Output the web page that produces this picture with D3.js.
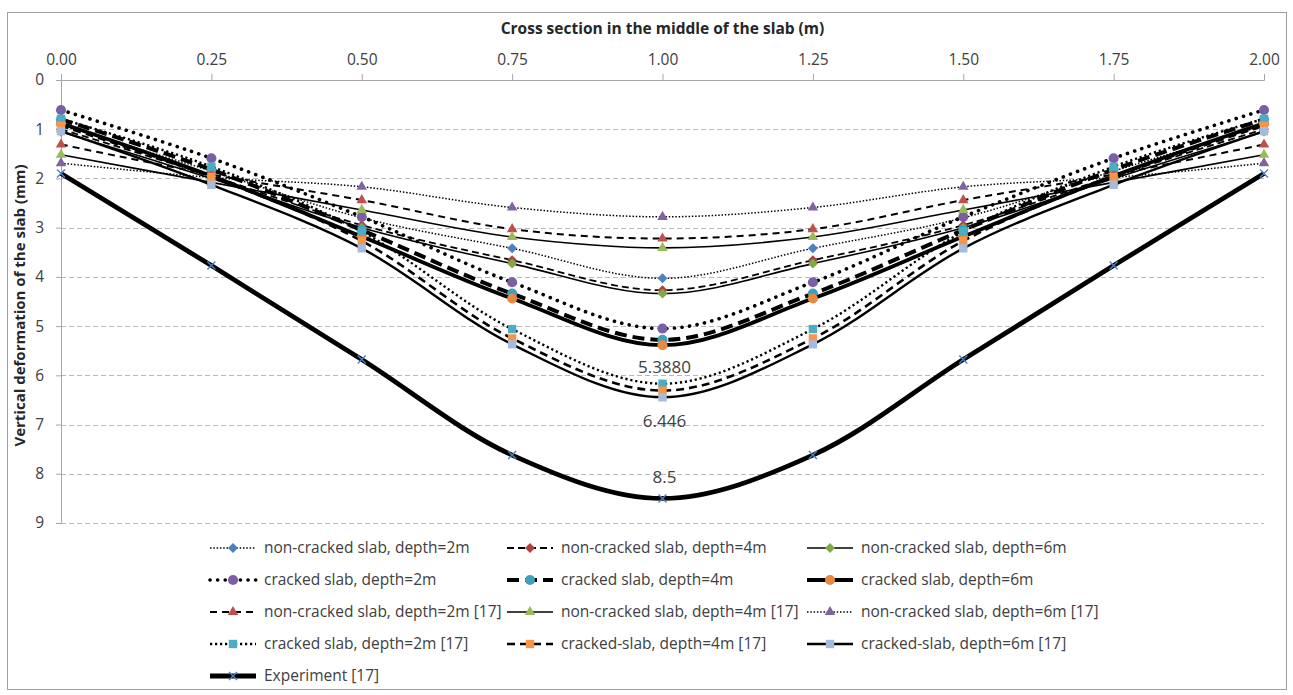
<!DOCTYPE html>
<html>
<head>
<meta charset="utf-8">
<script src="https://cdn.jsdelivr.net/npm/d3@7"></script>
<style>
body { margin: 0; background: #fff; }
text { font-family: "Open Sans", sans-serif; }
</style>
</head>
<body>
<div id="chart"></div>
<script>
const layout = {
    width: 1293,
    height: 695,
    marginLeft: 61,
    marginTop: 80,
    chartWidth: 1203,
    chartHeight: 443,
    legendTop: 548,
    legendRow: 32,
    legendCols: [210, 507, 807],
    sampleWidth: 46,
    textGap: 54
};

// x positions across the slab (m)
const xPos = [0, 0.25, 0.5, 0.75, 1, 1.25, 1.5, 1.75, 2];
const xTicks = [0, 0.25, 0.5, 0.75, 1, 1.25, 1.5, 1.75, 2];
const yTicks = [0, 1, 2, 3, 4, 5, 6, 7, 8, 9];

const seriesNames = [
    "non-cracked slab, depth=2m",
    "non-cracked slab, depth=4m",
    "non-cracked slab, depth=6m",
    "cracked slab, depth=2m",
    "cracked slab, depth=4m",
    "cracked slab, depth=6m",
    "non-cracked slab, depth=2m [17]",
    "non-cracked slab, depth=4m [17]",
    "non-cracked slab, depth=6m [17]",
    "cracked slab, depth=2m [17]",
    "cracked-slab, depth=4m [17]",
    "cracked-slab, depth=6m [17]",
    "Experiment [17]"
];

// vertical deformation (mm) at each xPos
const nonCracked2 = [0.92, 1.85, 2.80, 3.42, 4.03, 3.42, 2.80, 1.85, 0.92];
const nonCracked4 = [1.00, 1.95, 2.95, 3.66, 4.27, 3.66, 2.95, 1.95, 1.00];
const nonCracked6 = [1.05, 2.00, 3.00, 3.73, 4.34, 3.73, 3.00, 2.00, 1.05];
const cracked2 = [0.61, 1.59, 2.78, 4.11, 5.05, 4.11, 2.78, 1.59, 0.61];
const cracked4 = [0.80, 1.82, 3.05, 4.34, 5.28, 4.34, 3.05, 1.82, 0.80];
const cracked6 = [0.88, 1.95, 3.18, 4.44, 5.388, 4.44, 3.18, 1.95, 0.88];
const nonCracked2Ref = [1.31, 1.92, 2.44, 3.03, 3.22, 3.03, 2.44, 1.92, 1.31];
const nonCracked4Ref = [1.52, 2.08, 2.64, 3.19, 3.41, 3.19, 2.64, 2.08, 1.52];
const nonCracked6Ref = [1.69, 1.98, 2.17, 2.59, 2.78, 2.59, 2.17, 1.98, 1.69];
const cracked2Ref = [0.79, 1.76, 3.08, 5.06, 6.17, 5.06, 3.08, 1.76, 0.79];
const cracked4Ref = [0.93, 1.97, 3.27, 5.25, 6.31, 5.25, 3.27, 1.97, 0.93];
const cracked6Ref = [1.04, 2.13, 3.42, 5.37, 6.446, 5.37, 3.42, 2.13, 1.04];
const experiment = [1.90, 3.77, 5.68, 7.62, 8.50, 7.62, 5.68, 3.77, 1.90];

const seriesValues = [nonCracked2, nonCracked4, nonCracked6, cracked2, cracked4, cracked6,
    nonCracked2Ref, nonCracked4Ref, nonCracked6Ref, cracked2Ref, cracked4Ref, cracked6Ref, experiment];

// data labels shown on the plot: series index, point index, text
const dataLabels = [
    {series: 5, point: 4, text: "5.3880"},
    {series: 11, point: 4, text: "6.446"},
    {series: 12, point: 4, text: "8.5"}
];

// line + marker look of each series
const styles = [
    {w: 1.5, dash: "1.5,1.8", marker: "diamond", color: "#4f81bd"},
    {w: 1.8, dash: "7,4", marker: "diamond", color: "#b0413e"},
    {w: 1.6, dash: null, marker: "diamond", color: "#7faa45"},
    {w: 3.6, dash: "0.1,7.5", cap: "round", marker: "circle", color: "#7a5ea6"},
    {w: 4, dash: "12,6", marker: "circle", color: "#3fa0bb"},
    {w: 3.8, dash: null, marker: "circle", color: "#ea8740"},
    {w: 2, dash: "7,5", marker: "triangle", color: "#c0504d"},
    {w: 1.6, dash: null, marker: "triangle", color: "#9bbb59"},
    {w: 1.5, dash: "1.5,1.8", marker: "triangle", color: "#8064a2"},
    {w: 2.4, dash: "2.2,2.8", marker: "square", color: "#4bacc6"},
    {w: 2.6, dash: "8,5", marker: "square", color: "#f79646"},
    {w: 2.4, dash: null, marker: "square", color: "#a6badd"},
    {w: 4.8, dash: null, marker: "x", color: "#4f81bd"}
];

const labelOffset = {5: 22, 11: 24, 12: -21};

let svg = d3.select("#chart").append("svg")
    .attr("width", layout.width)
    .attr("height", layout.height);

let xScale = d3.scaleLinear().domain([0, 2])
    .range([layout.marginLeft, layout.marginLeft + layout.chartWidth]);
let yScale = d3.scaleLinear().domain([0, 9])
    .range([layout.marginTop, layout.marginTop + layout.chartHeight]);

// outer frame
svg.append("rect")
    .attr("x", 7.5).attr("y", 12.5)
    .attr("width", 1279).attr("height", 677)
    .attr("fill", "none")
    .attr("stroke", "#a0a0a0");

// dashed horizontal gridlines
for (let i = 1; i < yTicks.length; i++) {
    svg.append("line")
        .attr("x1", xScale(0)).attr("x2", xScale(2))
        .attr("y1", Math.round(yScale(yTicks[i])) + 0.5)
        .attr("y2", Math.round(yScale(yTicks[i])) + 0.5)
        .attr("stroke", "#b8b8b8")
        .attr("stroke-width", 1)
        .attr("stroke-dasharray", "5,3");
}

// top x axis
let xAxis = svg.append("g")
    .attr("transform", `translate(0,${layout.marginTop})`)
    .call(d3.axisTop(xScale).tickValues(xTicks).tickFormat(d3.format(".2f")).tickSize(6).tickPadding(9));
xAxis.selectAll("line, .domain").attr("stroke", "#a6a6a6");
xAxis.selectAll("text").attr("fill", "#404040").attr("font-size", 15.5)
    .attr("font-family", "Open Sans, sans-serif");

// left y axis
let yAxis = svg.append("g")
    .attr("transform", `translate(${layout.marginLeft},0)`)
    .call(d3.axisLeft(yScale).tickValues(yTicks).tickFormat(d3.format("d")).tickSize(5).tickPadding(12));
yAxis.selectAll("line, .domain").attr("stroke", "#a6a6a6");
yAxis.selectAll("text").attr("fill", "#404040").attr("font-size", 15.5)
    .attr("font-family", "Open Sans, sans-serif");

// axis titles
svg.append("text")
    .attr("x", xScale(1)).attr("y", 34)
    .attr("text-anchor", "middle")
    .attr("font-size", 15.5)
    .attr("font-weight", "bold")
    .attr("fill", "#262626")
    .text("Cross section in the middle of the slab (m)");
svg.append("text")
    .attr("transform", `translate(25,${(yScale(0) + yScale(9)) / 2 + 4}) rotate(-90)`)
    .attr("text-anchor", "middle")
    .attr("font-size", 15)
    .attr("font-weight", "bold")
    .attr("fill", "#262626")
    .text("Vertical deformation of the slab (mm)");

function markerPath(kind) {
    if (kind === "diamond") return d3.symbol(d3.symbolSquare, 50)();
    if (kind === "circle") return d3.symbol(d3.symbolCircle, 80)();
    if (kind === "triangle") return d3.symbol(d3.symbolTriangle, 48)();
    if (kind === "square") return d3.symbol(d3.symbolSquare, 70)();
    return "M-4,-4L4,4M-4,4L4,-4";
}

function drawMarker(g, kind, color, x, y) {
    let m = g.append("path")
        .attr("d", markerPath(kind))
        .attr("transform", `translate(${x},${y})` + (kind === "diamond" ? " rotate(45)" : ""));
    if (kind === "x") {
        m.attr("fill", "none").attr("stroke", color).attr("stroke-width", 1.4);
    } else {
        m.attr("fill", color).attr("stroke", "none");
    }
}

let line = d3.line()
    .x((d, i) => xScale(xPos[i]))
    .y(d => yScale(d))
    .curve(d3.curveCatmullRom.alpha(0.5));

// draw each series: line then markers
for (let s = 0; s < seriesValues.length; s++) {
    let st = styles[s];
    let g = svg.append("g").attr("class", "series-" + s);
    g.append("path")
        .datum(seriesValues[s])
        .attr("fill", "none")
        .attr("stroke", "#000")
        .attr("stroke-width", st.w)
        .attr("stroke-dasharray", st.dash)
        .attr("stroke-linecap", st.cap || "butt")
        .attr("d", line);
    for (let i = 0; i < xPos.length; i++) {
        drawMarker(g, st.marker, st.color, xScale(xPos[i]), yScale(seriesValues[s][i]));
    }
}

// data labels
dataLabels.forEach(function(d) {
    svg.append("text")
        .attr("x", xScale(xPos[d.point]) + 2)
        .attr("y", yScale(seriesValues[d.series][d.point]) + labelOffset[d.series])
        .attr("dy", "0.35em")
        .attr("text-anchor", "middle")
        .attr("font-size", 17)
        .attr("fill", "#404040")
        .text(d.text);
});

// legend, three columns
for (let s = 0; s < seriesNames.length; s++) {
    let st = styles[s];
    let col = s % 3;
    let row = Math.floor(s / 3);
    let x0 = layout.legendCols[col];
    let y0 = layout.legendTop + row * layout.legendRow;
    let g = svg.append("g").attr("class", "legend-" + s);
    g.append("line")
        .attr("x1", x0).attr("x2", x0 + layout.sampleWidth)
        .attr("y1", y0).attr("y2", y0)
        .attr("stroke", "#000")
        .attr("stroke-width", st.w)
        .attr("stroke-dasharray", st.dash)
        .attr("stroke-linecap", st.cap || "butt");
    drawMarker(g, st.marker, st.color, x0 + layout.sampleWidth / 2, y0);
    g.append("text")
        .attr("x", x0 + layout.textGap)
        .attr("y", y0)
        .attr("dy", "0.35em")
        .attr("font-size", 15.5)
        .attr("fill", "#404040")
        .text(seriesNames[s]);
}
</script>
</body>
</html>
